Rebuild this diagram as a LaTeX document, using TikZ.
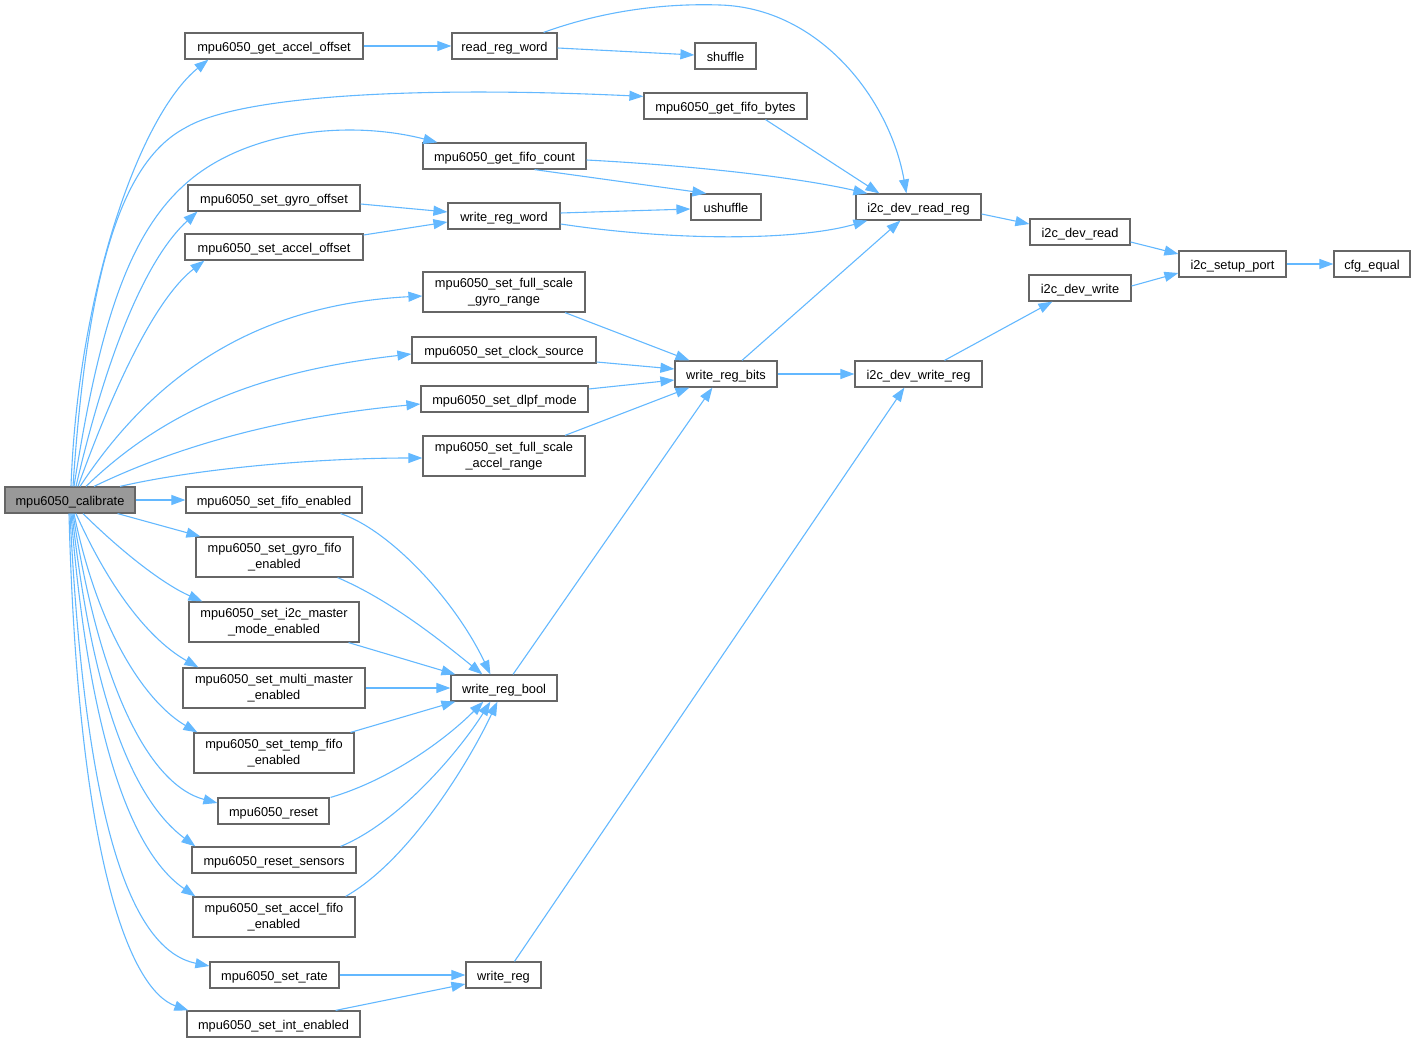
\documentclass[tikz,border=0pt]{standalone}
\usepackage{fontspec}
\setmainfont{Liberation Sans}
\usetikzlibrary{arrows.meta,calc}
\definecolor{edgeblue}{HTML}{63B8FF}
\definecolor{boxgray}{HTML}{666666}
\definecolor{calfill}{HTML}{999999}
\tikzset{
  fnbase/.style={draw=boxgray, fill=white, line width=1.2pt, inner sep=0pt,
    align=center, font=\fontsize{12.8}{16}\selectfont},
  fn/.style={fnbase, minimum height=26pt, text height=11pt, text depth=0pt},
  fn2/.style={fnbase, minimum height=40pt},
  call/.style={draw=edgeblue, line width=1.1pt, -{Triangle[length=14pt,width=10pt]}},
}
\begin{document}
\begin{tikzpicture}[x=1pt,y=-1pt]
\useasboundingbox (0,0) rectangle (1416,1043);
% nodes
\node[fn, fill=calfill, minimum width=130pt] (cal) at (70,500) {mpu6050\_calibrate};
\node[fn, minimum width=178pt] (gao) at (274,46) {mpu6050\_get\_accel\_offset};
\node[fn, minimum width=105pt] (rrw) at (504.5,46) {read\_reg\_word};
\node[fn, minimum width=61pt] (shuf) at (725.5,56) {shuffle};
\node[fn, minimum width=163pt] (gfb) at (725.5,106) {mpu6050\_get\_fifo\_bytes};
\node[fn, minimum width=163pt] (gfc) at (504.5,156) {mpu6050\_get\_fifo\_count};
\node[fn, minimum width=172pt] (sgo) at (274,198) {mpu6050\_set\_gyro\_offset};
\node[fn, minimum width=112pt] (wrw) at (504,216) {write\_reg\_word};
\node[fn, minimum width=70pt] (ushuf) at (726,207) {ushuffle};
\node[fn, minimum width=178pt] (sao) at (274,247) {mpu6050\_set\_accel\_offset};
\node[fn, minimum width=125pt] (drr) at (918.5,207) {i2c\_dev\_read\_reg};
\node[fn, minimum width=100pt] (dr) at (1080,232) {i2c\_dev\_read};
\node[fn, minimum width=107pt] (sp) at (1232.5,264) {i2c\_setup\_port};
\node[fn, minimum width=76pt] (cfg) at (1372,264) {cfg\_equal};
\node[fn, minimum width=102pt] (dw) at (1080,288) {i2c\_dev\_write};
\node[fn2, minimum width=162pt] (fsg) at (504,292) {mpu6050\_set\_full\_scale\\\_gyro\_range};
\node[fn, minimum width=184pt] (cs) at (504,350) {mpu6050\_set\_clock\_source};
\node[fn, minimum width=102pt] (wrb) at (726,374) {write\_reg\_bits};
\node[fn, minimum width=127pt] (dwr) at (918.5,374) {i2c\_dev\_write\_reg};
\node[fn, minimum width=167pt] (dlpf) at (504.5,399) {mpu6050\_set\_dlpf\_mode};
\node[fn2, minimum width=162pt] (fsa) at (504,456) {mpu6050\_set\_full\_scale\\\_accel\_range};
\node[fn, minimum width=176pt] (sfe) at (274,500) {mpu6050\_set\_fifo\_enabled};
\node[fn2, minimum width=157pt] (sgfe) at (274.5,557) {mpu6050\_set\_gyro\_fifo\\\_enabled};
\node[fn2, minimum width=170pt] (smm) at (274,622) {mpu6050\_set\_i2c\_master\\\_mode\_enabled};
\node[fn2, minimum width=182pt] (smum) at (274,688) {mpu6050\_set\_multi\_master\\\_enabled};
\node[fn, minimum width=106pt] (wrbool) at (504,688) {write\_reg\_bool};
\node[fn2, minimum width=160pt] (stf) at (274,753) {mpu6050\_set\_temp\_fifo\\\_enabled};
\node[fn, minimum width=111pt] (rst) at (273.5,811) {mpu6050\_reset};
\node[fn, minimum width=164pt] (rs) at (274,860) {mpu6050\_reset\_sensors};
\node[fn2, minimum width=162pt] (saf) at (274,917) {mpu6050\_set\_accel\_fifo\\\_enabled};
\node[fn, minimum width=129pt] (sr) at (274.5,975) {mpu6050\_set\_rate};
\node[fn, minimum width=75pt] (wr) at (503.5,975) {write\_reg};
\node[fn, minimum width=173pt] (sie) at (273.5,1024) {mpu6050\_set\_int\_enabled};

% edges from calibrate (upwards)
\draw[call] ($(cal.north)+(1,0)$) .. controls (78,290) and (140,115) .. ($(gao.south west)+(24,0)$);
\draw[call] ($(cal.north)+(3,0)$) .. controls (88,260) and (125,160) .. (185,128)
   .. controls (240,95) and (420,86) .. ($(gfb.north west)+(0,4)$);
\draw[call] ($(cal.north)+(4,0)$) .. controls (100,320) and (130,230) .. (190,180)
   .. controls (250,130) and (350,120) .. ($(gfc.north west)+(15,0)$);
\draw[call] ($(cal.north)+(6,0)$) .. controls (110,340) and (150,255) .. ($(sgo.south west)+(10,0)$);
\draw[call] ($(cal.north)+(8,0)$) .. controls (120,370) and (160,295) .. ($(sao.south west)+(20,0)$);
\draw[call] ($(cal.north)+(10,0)$) .. controls (150,380) and (250,305) .. ($(fsg.west)+(0,4)$);
\draw[call] ($(cal.north)+(16,0)$) .. controls (170,405) and (270,370) .. ($(cs.west)+(0,4)$);
\draw[call] ($(cal.north)+(24,0)$) .. controls (190,440) and (300,415) .. ($(dlpf.west)+(0,5)$);
\draw[call] ($(cal.north)+(50,0)$) .. controls (200,468) and (320,458) .. ($(fsa.west)+(0,2)$);
% straight
\draw[call] (cal.east) -- (sfe.west);
% downwards
\draw[call] ($(cal.south east)+(-18,0)$) -- ($(sgfe.north west)+(5,0)$);
\draw[call] ($(cal.south)+(13,0)$) .. controls (125,555) and (165,585) .. ($(smm.north west)+(14,0)$);
\draw[call] ($(cal.south)+(6,0)$) .. controls (110,590) and (150,640) .. ($(smum.north west)+(16,0)$);
\draw[call] ($(cal.south)+(4,0)$) .. controls (100,640) and (150,705) .. ($(stf.north west)+(4,0)$);
\draw[call] ($(cal.south)+(3,0)$) .. controls (100,690) and (150,785) .. ($(rst.west)+(0,-8)$);
\draw[call] ($(cal.south)+(2,0)$) .. controls (95,720) and (140,805) .. ($(rs.north west)+(4,0)$);
\draw[call] ($(cal.south)+(1,0)$) .. controls (90,750) and (135,855) .. ($(saf.north west)+(3,0)$);
\draw[call] ($(cal.south)+(0,0)$) .. controls (85,820) and (130,950) .. ($(sr.west)+(0,-9)$);
\draw[call] ($(cal.south)+(-1,0)$) .. controls (78,860) and (130,990) .. ($(sie.north west)+(2,0)$);

% other edges
\draw[call] (gao.east) -- (rrw.west);
\draw[call] ($(rrw.east)+(0,2)$) -- ($(shuf.west)+(0,-1)$);
\draw[call] ($(rrw.north east)+(-14,0)$) .. controls (600,12) and (660,3) .. (720,5)
   .. controls (820,8) and (890,100) .. ($(drr.north west)+(51,0)$);
\draw[call] ($(gfb.south)+(40,0)$) -- ($(drr.north west)+(24,0)$);
\draw[call] ($(gfc.east)+(0,4)$) .. controls (700,166) and (800,178) .. ($(drr.north west)+(12,0)$);
\draw[call] ($(gfc.south)+(30,0)$) -- ($(ushuf.north west)+(16,0)$);
\draw[call] ($(sgo.east)+(0,6)$) -- ($(wrw.west)+(0,-4)$);
\draw[call] ($(sao.east)+(0,-12)$) -- ($(wrw.west)+(0,6)$);
\draw[call] ($(wrw.east)+(0,-3)$) -- ($(ushuf.west)+(0,2)$);
\draw[call] ($(wrw.east)+(0,8)$) .. controls (680,242) and (800,240) .. ($(drr.south west)+(12,0)$);
\draw[call] ($(drr.east)+(0,7)$) -- ($(dr.west)+(0,-8)$);
\draw[call] ($(dr.east)+(0,10)$) -- ($(sp.west)+(0,-10)$);
\draw[call] ($(dw.east)+(0,-2)$) -- ($(sp.west)+(0,9)$);
\draw[call] (sp.east) -- (cfg.west);
\draw[call] ($(dwr.north)+(26,0)$) -- ($(dw.south west)+(24,0)$);
\draw[call] ($(wrb.north)+(16,0)$) -- ($(drr.south west)+(45,0)$);
\draw[call] (wrb.east) -- (dwr.west);
\draw[call] ($(fsg.south)+(61,0)$) -- ($(wrb.north west)+(15,0)$);
\draw[call] ($(cs.east)+(0,12)$) -- ($(wrb.west)+(0,-5)$);
\draw[call] ($(dlpf.east)+(0,-10)$) -- ($(wrb.west)+(0,6)$);
\draw[call] ($(fsa.north)+(61,0)$) -- ($(wrb.south west)+(15,0)$);
\draw[call] ($(wrbool.north)+(9,0)$) -- ($(wrb.south west)+(38,0)$);
\draw[call] ($(sfe.south east)+(-22,0)$) .. controls (390,530) and (455,600) .. ($(wrbool.north west)+(40,0)$);
\draw[call] ($(sgfe.south east)+(-16,0)$) .. controls (390,600) and (440,640) .. ($(wrbool.north west)+(32,0)$);
\draw[call] ($(smm.south east)+(-11,0)$) -- ($(wrbool.north west)+(5,0)$);
\draw[call] (smum.east) -- (wrbool.west);
\draw[call] ($(stf.north east)+(-4,0)$) -- ($(wrbool.south west)+(5,0)$);
\draw[call] ($(rst.north east)+(1,0)$) .. controls (390,780) and (445,740) .. ($(wrbool.south west)+(33,0)$);
\draw[call] ($(rs.north east)+(-16,0)$) .. controls (400,822) and (460,750) .. ($(wrbool.south west)+(40,0)$);
\draw[call] ($(saf.north east)+(-10,0)$) .. controls (410,860) and (470,760) .. ($(wrbool.south west)+(47,0)$);
\draw[call] (sr.east) -- (wr.west);
\draw[call] ($(sie.north east)+(-25,0)$) -- ($(wr.west)+(0,9)$);
\draw[call] ($(wr.north)+(11,0)$) -- ($(dwr.south west)+(50,0)$);
\end{tikzpicture}
\end{document}
